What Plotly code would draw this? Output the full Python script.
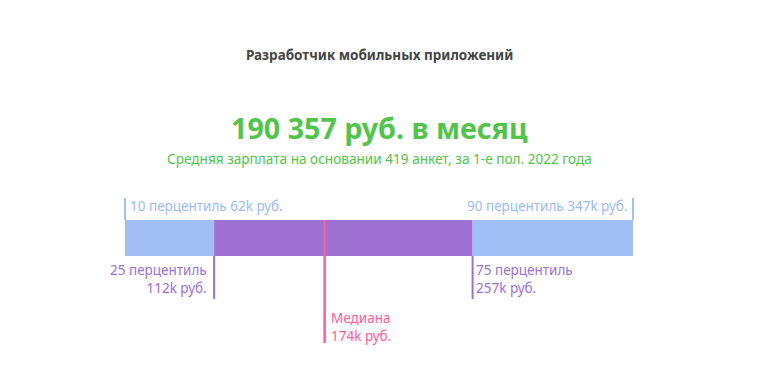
import plotly.graph_objects as go

# ---- data ----
title_text = "Разработчик мобильных приложений"
mean_salary_text = "190 357 руб. в месяц"
subtitle_text = "Средняя зарплата на основании 419 анкет, за 1-е пол. 2022 года"
percentile_names = ["10 перцентиль", "25 перцентиль", "Медиана", "75 перцентиль", "90 перцентиль"]
percentile_values = [62, 112, 174, 257, 347]  # thousand rubles
value_labels = ["62k руб.", "112k руб.", "174k руб.", "257k руб.", "347k руб."]

# ---- styles ----
LIGHT_BLUE = "#a1bff5"
LIGHT_BLUE_TXT = "#9dbbf2"
PURPLE = "#9d70d2"
PINK = "#ff5c9d"
GREEN = "#52c44b"
DARK = "#444444"
FONT = "Noto Sans"
FS = 13.5

p10, p25, p50, p75, p90 = percentile_values

fig = go.Figure()

# bar segments
segments = [(p10, p25, LIGHT_BLUE), (p25, p75, PURPLE), (p75, p90, LIGHT_BLUE)]
for lo, hi, col in segments:
    fig.add_trace(go.Bar(
        x=[hi - lo], base=[lo], y=[0], orientation="h", width=36,
        marker=dict(color=col, line=dict(width=0)), hoverinfo="skip", showlegend=False,
    ))

# marker lines
def vline(xv, y0, y1, col, w):
    fig.add_trace(go.Scatter(x=[xv, xv], y=[y0, y1], mode="lines",
                             line=dict(color=col, width=w), hoverinfo="skip", showlegend=False))

vline(p10, -40, -18, LIGHT_BLUE, 2)
vline(p90, -40, -18, LIGHT_BLUE, 2)
vline(p25, 18, 61, PURPLE, 2)
vline(p75, 18, 61, PURPLE, 2)
vline(p50, -18, 105, PINK, 2.5)

XC = 371.5 / 747
ann = []
ann.append(dict(x=XC, xref="paper", y=-183, yref="y", text="<b>" + title_text + "</b>",
                showarrow=False, font=dict(family=FONT, size=13.5, color=DARK), xanchor="center", yanchor="middle"))
ann.append(dict(x=XC, xref="paper", y=-111, yref="y", text="<b>" + mean_salary_text + "</b>",
                showarrow=False, font=dict(family=FONT, size=28.7, color=GREEN), xanchor="center", yanchor="middle"))
ann.append(dict(x=XC, xref="paper", y=-80, yref="y", text=subtitle_text,
                showarrow=False, font=dict(family=FONT, size=13.6, color=GREEN), xanchor="center", yanchor="middle"))
ann.append(dict(x=p10, y=-32, xref="x", yref="y", text=percentile_names[0] + " " + value_labels[0],
                showarrow=False, xanchor="left", yanchor="middle", xshift=3,
                font=dict(family=FONT, size=FS, color=LIGHT_BLUE_TXT)))
ann.append(dict(x=p90, y=-32, xref="x", yref="y", text=percentile_names[4] + " " + value_labels[4],
                showarrow=False, xanchor="right", yanchor="middle", xshift=-4,
                font=dict(family=FONT, size=FS, color=LIGHT_BLUE_TXT)))
ann.append(dict(x=p25, y=41, xref="x", yref="y", text=percentile_names[1] + "<br>" + value_labels[1],
                showarrow=False, xanchor="right", yanchor="middle", xshift=-5, align="right",
                font=dict(family=FONT, size=FS, color=PURPLE)))
ann.append(dict(x=p75, y=41, xref="x", yref="y", text=percentile_names[3] + "<br>" + value_labels[3],
                showarrow=False, xanchor="left", yanchor="middle", xshift=1, align="left",
                font=dict(family=FONT, size=FS, color=PURPLE)))
ann.append(dict(x=p50, y=88.5, xref="x", yref="y", text=percentile_names[2] + "<br>" + value_labels[2],
                showarrow=False, xanchor="left", yanchor="middle", xshift=4, align="left",
                font=dict(family=FONT, size=FS, color=PINK)))

fig.update_layout(
    width=747, height=366,
    margin=dict(l=0, r=0, t=0, b=0),
    paper_bgcolor="white", plot_bgcolor="white",
    barmode="overlay",
    xaxis=dict(range=[-3.64, 415.43], visible=False, fixedrange=True),
    yaxis=dict(range=[136, -230], visible=False, fixedrange=True),
    annotations=ann,
)

fig.write_html("out.html")
